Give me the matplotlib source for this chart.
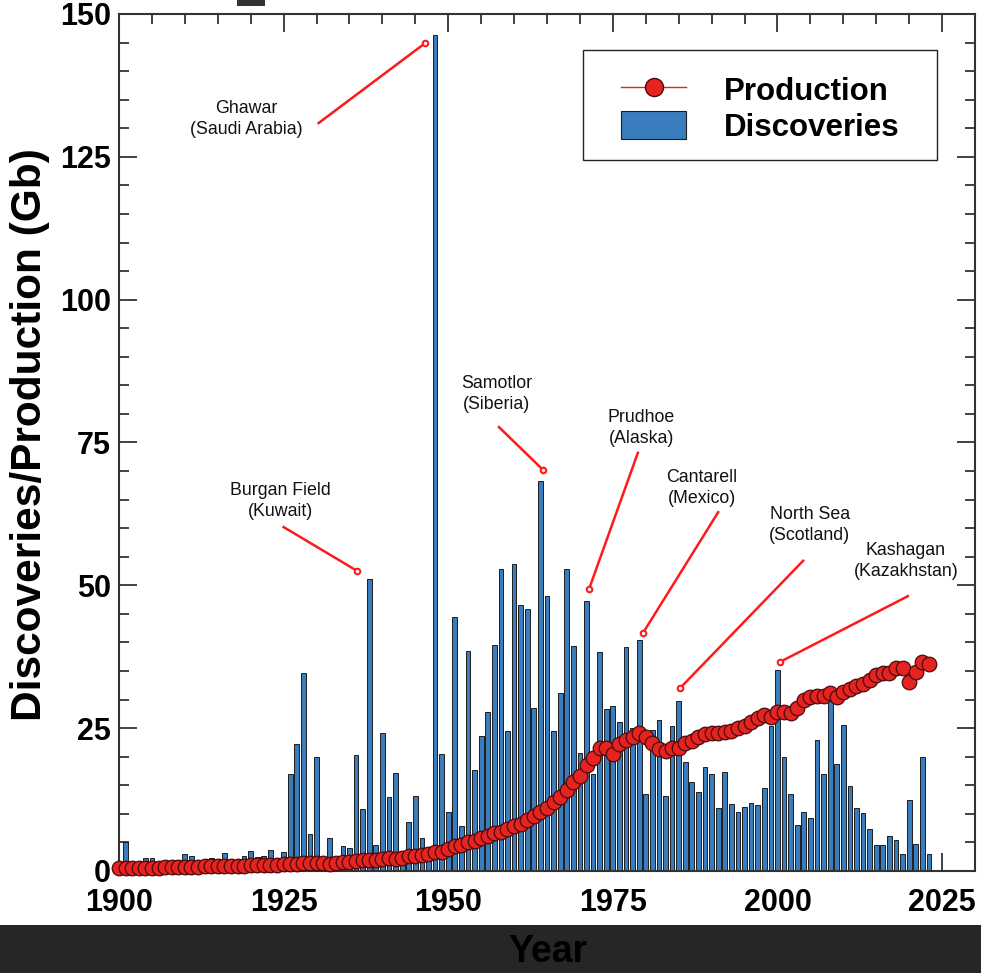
import matplotlib
matplotlib.use("Agg")
import matplotlib.pyplot as plt
from matplotlib.patches import Rectangle, Patch
from matplotlib.lines import Line2D
from matplotlib.ticker import MultipleLocator

plt.rcParams['font.family'] = ['Liberation Sans', 'DejaVu Sans']

# discoveries, one bar per year 1901-2023 (Gb)
disc_years = list(range(1901, 2024))
discoveries = [
    5.0, 0.3, 0.3, 2.3, 2.3, 0.3, 0.4, 0.6, 1.9,            # 1901-1909
    2.9, 2.6, 2.0, 0.8, 2.3, 2.0, 3.1, 1.9, 1.0, 2.7,       # 1910-1919
    3.5, 2.4, 2.6, 3.6, 1.2, 3.3, 17.0, 22.3, 34.7, 6.4,    # 1920-1929
    20.0, 2.0, 5.7, 1.5, 4.4, 4.1, 20.3, 10.8, 51.1, 4.5,   # 1930-1939
    24.2, 12.9, 17.1, 2.5, 8.6, 13.2, 5.8, 3.5, 146.3, 20.5,  # 1940-1949
    10.3, 44.5, 7.8, 38.5, 17.7, 23.7, 27.9, 39.6, 52.9, 24.5,  # 1950-1959
    53.7, 46.6, 45.9, 28.5, 68.3, 48.2, 24.5, 31.2, 52.8, 39.3,  # 1960-1969
    20.6, 47.3, 16.9, 38.4, 28.4, 28.9, 26.1, 39.2, 25.0, 40.4,  # 1970-1979
    13.5, 24.7, 26.4, 13.1, 25.3, 29.7, 19.0, 15.5, 13.9, 18.2,  # 1980-1989
    16.9, 11.1, 17.4, 11.7, 10.3, 11.2, 11.9, 11.5, 14.5, 25.3,  # 1990-1999
    35.1, 20.0, 13.5, 8.1, 10.3, 9.2, 22.9, 16.9, 29.9, 18.7,    # 2000-2009
    25.5, 14.8, 11.0, 10.1, 7.3, 4.5, 4.5, 6.2, 5.5, 3.0,        # 2010-2019
    12.5, 4.7, 20.0, 3.0,                                        # 2020-2023
]

# production, 1900-2023 (Gb/yr)
prod_years = list(range(1900, 2024))
production = [
    0.5, 0.5, 0.5, 0.55, 0.6, 0.6, 0.6, 0.65, 0.7, 0.7,
    0.7, 0.75, 0.75, 0.8, 0.8, 0.85, 0.85, 0.9, 0.9, 0.95,
    1.0, 1.0, 1.05, 1.1, 1.1, 1.15, 1.2, 1.3, 1.35, 1.45,
    1.4, 1.35, 1.3, 1.4, 1.5, 1.6, 1.75, 1.9, 1.9, 2.0,
    2.1, 2.2, 2.1, 2.3, 2.6, 2.6, 2.8, 3.0, 3.4, 3.4,
    3.9, 4.3, 4.6, 5.0, 5.3, 5.7, 6.2, 6.6, 6.9, 7.3,
    7.8, 8.3, 8.9, 9.6, 10.4, 11.0, 12.0, 12.9, 14.1, 15.5,
    16.6, 18.6, 19.7, 21.5, 21.5, 20.5, 22.2, 23.0, 23.4, 24.2,
    23.5, 22.4, 21.4, 21.0, 21.6, 21.5, 22.4, 22.7, 23.4, 23.9,
    24.2, 24.2, 24.4, 24.5, 25.0, 25.4, 26.1, 26.7, 27.3, 26.9,
    27.9, 27.9, 27.6, 28.6, 30.0, 30.5, 30.6, 30.6, 31.2, 30.5,
    31.4, 31.8, 32.4, 32.7, 33.4, 34.3, 34.7, 34.7, 35.5, 35.5,
    33.1, 34.9, 36.5, 36.2,
]

# field labels: text, text centre, line start, line end (year, Gb)
fields = [
    ("Ghawar\n(Saudi Arabia)", (1919.4, 131.6), (1930.3, 130.9), (1946.5, 144.9)),
    ("Burgan Field\n(Kuwait)", (1924.5, 64.8), (1925.0, 60.2), (1936.2, 52.5)),
    ("Samotlor\n(Siberia)", (1957.3, 83.5), (1957.7, 77.7), (1964.4, 70.2)),
    ("Prudhoe\n(Alaska)", (1979.3, 77.5), (1978.8, 73.2), (1971.4, 49.4)),
    ("Cantarell\n(Mexico)", (1988.5, 67.1), (1991.0, 62.8), (1979.6, 41.7)),
    ("North Sea\n(Scotland)", (2004.9, 60.6), (2003.9, 54.3), (1985.2, 32.0)),
    ("Kashagan\n(Kazakhstan)", (2019.5, 54.2), (2019.8, 48.1), (2000.4, 36.6)),
]

BLUE = "#3a7dbf"
RED = "#e52320"

fig = plt.figure(figsize=(9.81, 9.73), dpi=100)
fig.patch.set_facecolor("white")
# dark strip at the bottom and the little tab at the top
fig.patches.append(Rectangle((0, 0), 1, 48 / 973, transform=fig.transFigure,
                             facecolor="#262626", edgecolor="none", zorder=0))
fig.patches.append(Rectangle((237 / 981, 1 - 6 / 973), 28 / 981, 6 / 973,
                             transform=fig.transFigure, facecolor="#333333",
                             edgecolor="none", zorder=0))

ax = fig.add_axes([119 / 981, 1 - 871 / 973, 856 / 981, 857 / 973])

ax.bar(disc_years, discoveries, width=0.72, color=BLUE, edgecolor="#1c1c1c",
       linewidth=0.7, zorder=2)
ax.plot(prod_years, production, color=RED, lw=1.0, marker="o", ms=10.5,
        markerfacecolor=RED, markeredgecolor="#4a0a0a", markeredgewidth=0.9,
        zorder=3, clip_on=False)

for label, txt, p0, p1 in fields:
    ax.plot([p0[0], p1[0]], [p0[1], p1[1]], color="#ff1a1a", lw=1.8, zorder=4)
    ax.plot(p1[0], p1[1], "o", ms=4, markerfacecolor="white",
            markeredgecolor="#ff1a1a", markeredgewidth=1.5, zorder=5)
    ax.text(txt[0], txt[1], label, ha="center", va="center", fontsize=12.8,
            color="#111111", linespacing=1.3, zorder=5)

ax.set_xlim(1900, 2030)
ax.set_ylim(0, 150)
ax.xaxis.set_major_locator(MultipleLocator(25))
ax.xaxis.set_minor_locator(MultipleLocator(5))
ax.yaxis.set_major_locator(MultipleLocator(25))
ax.yaxis.set_minor_locator(MultipleLocator(5))
ax.tick_params(which="both", direction="in", top=True, right=True,
               color="#333333", width=1.3)
ax.tick_params(which="major", length=13, labelsize=22, pad=6)
ax.tick_params(axis="x", which="major", pad=12)
ax.tick_params(which="minor", length=7)
for lab in ax.get_xticklabels() + ax.get_yticklabels():
    lab.set_fontweight("bold")
for s in ax.spines.values():
    s.set_linewidth(1.5)
    s.set_color("#333333")

ax.set_ylabel("Discoveries/Production (Gb)", fontsize=30.5, fontweight="bold")
ax.yaxis.set_label_coords(-0.081, 0.509)
fig.text(548 / 981, 1 - 952 / 973, "Year", ha="center", va="center",
         fontsize=27, fontweight="bold", color="black")

# legend frame drawn separately so it can be wider than the entries need
ax.add_patch(Rectangle((0.542, 0.8296), 0.414, 0.1284, transform=ax.transAxes,
                       facecolor="white", edgecolor="#222222", linewidth=1.0,
                       zorder=6))
handles = [
    Line2D([], [], color=RED, lw=1.0, marker="o", ms=13, markerfacecolor=RED,
           markeredgecolor="#4a0a0a"),
    Patch(facecolor=BLUE, edgecolor="#1c1c1c", linewidth=0.8),
]
leg = ax.legend(handles, ["Production", "Discoveries"], loc="center",
                bbox_to_anchor=(0.749, 0.889), fontsize=22.5, frameon=False,
                handlelength=2.1, handleheight=1.0, borderpad=0,
                labelspacing=0.15, handletextpad=1.2, borderaxespad=0)
leg.set_zorder(7)
for t in leg.get_texts():
    t.set_fontweight("bold")

fig.savefig("out.png", dpi=100)
